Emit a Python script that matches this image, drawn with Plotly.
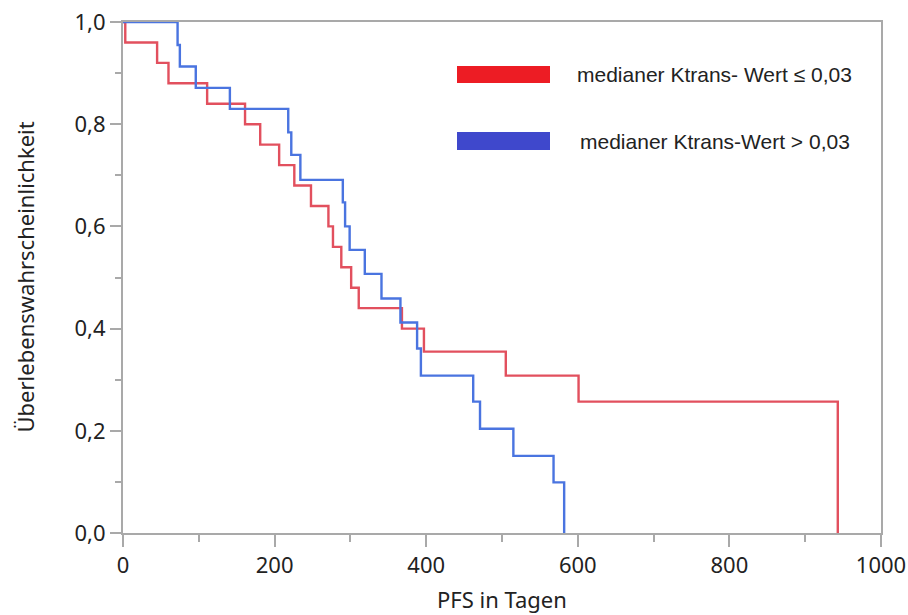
import plotly.graph_objects as go

# Kaplan-Meier PFS estimates per group (time in days, survival probability)
days_low = [0, 3, 45, 60, 111, 161, 181, 206, 226, 248, 271, 277, 288, 301, 311, 368, 397, 505, 601, 943]
surv_low = [1.0, 0.96, 0.92, 0.88, 0.84, 0.80, 0.76, 0.72, 0.68, 0.64, 0.60, 0.56, 0.52, 0.48, 0.44, 0.40,
            0.355, 0.308, 0.257, 0.0]

days_high = [0, 72, 75, 96, 141, 218, 222, 234, 290, 293, 299, 319, 341, 366, 388, 393, 462, 471, 515, 568, 582]
surv_high = [1.0, 0.955, 0.913, 0.871, 0.830, 0.784, 0.740, 0.691, 0.647, 0.600, 0.554, 0.507, 0.459, 0.412,
             0.361, 0.308, 0.257, 0.204, 0.151, 0.099, 0.0]

label_low = "medianer Ktrans- Wert \u2264 0,03"
label_high = "medianer Ktrans-Wert > 0,03"
x_title = "PFS in Tagen"
y_title = "Überlebenswahrscheinlichkeit"

line_low = "#e2505e"
line_high = "#4a74e0"
key_low = "#ed1c24"
key_high = "#3f48cc"
axis_grey = "#a9a9a9"

W, H = 908, 615
ML, MR, MT, MB = 123, 27, 22, 82
PW, PH = W - ML - MR, H - MT - MB


def px_x(p):
    return (p - ML) / PW


def px_y(p):
    return (H - MB - p) / PH


fig = go.Figure()
fig.add_trace(go.Scatter(x=days_low, y=surv_low, mode="lines", line=dict(shape="hv", color=line_low, width=2.4),
                         name=label_low, showlegend=False))
fig.add_trace(go.Scatter(x=days_high, y=surv_high, mode="lines", line=dict(shape="hv", color=line_high, width=2.4),
                         name=label_high, showlegend=False))

tick_font = dict(family="Noto Sans, Open Sans, sans-serif", size=22, color="#222222")

fig.update_xaxes(range=[0, 1000], dtick=200, tick0=0, tickformat="d",
                 showline=True, linecolor=axis_grey, linewidth=2, mirror=True,
                 ticks="outside", ticklen=12, tickwidth=2, tickcolor=axis_grey,
                 minor=dict(dtick=100, ticks="outside", ticklen=7, tickwidth=2, tickcolor=axis_grey),
                 showgrid=False, zeroline=False, tickfont=tick_font)
fig.update_yaxes(range=[0, 1.0], dtick=0.2, tick0=0, tickformat=".1f",
                 showline=True, linecolor=axis_grey, linewidth=2, mirror=True,
                 ticks="outside", ticklen=11, tickwidth=2, tickcolor=axis_grey,
                 minor=dict(dtick=0.1, ticks="outside", ticklen=6, tickwidth=2, tickcolor=axis_grey),
                 showgrid=False, zeroline=False, tickfont=tick_font)

# axis titles
fig.add_annotation(text=x_title, xref="paper", yref="paper", x=0.5, y=px_y(599),
                   xanchor="center", yanchor="middle", showarrow=False,
                   font=dict(family="Noto Sans, Open Sans, sans-serif", size=22, color="#222222"))
fig.add_annotation(text=y_title, xref="paper", yref="paper", x=px_x(24), y=0.5, textangle=-90,
                   xanchor="center", yanchor="middle", showarrow=False,
                   font=dict(family="Noto Sans, Open Sans, sans-serif", size=22, color="#222222"))

# legend keys and labels
legend_font = dict(family="Liberation Sans Narrow, Liberation Sans, Arial, sans-serif", size=21, color="#222222")
for color, y0, y1, text, tx, ty in [
    (key_low, 66, 83, label_low, 575, 74),
    (key_high, 132, 150, label_high, 578, 141),
]:
    fig.add_shape(type="rect", xref="paper", yref="paper", x0=px_x(457), x1=px_x(550), y0=px_y(y1), y1=px_y(y0),
                  fillcolor=color, line=dict(width=0))
    fig.add_annotation(text=text, xref="paper", yref="paper", x=px_x(tx), y=px_y(ty), xanchor="left",
                       yanchor="middle", showarrow=False, font=legend_font)

fig.update_layout(width=W, height=H, margin=dict(l=ML, r=MR, t=MT, b=MB, autoexpand=False),
                  paper_bgcolor="white", plot_bgcolor="white", separators=",.",
                  showlegend=False)

fig.write_html("out.html")
